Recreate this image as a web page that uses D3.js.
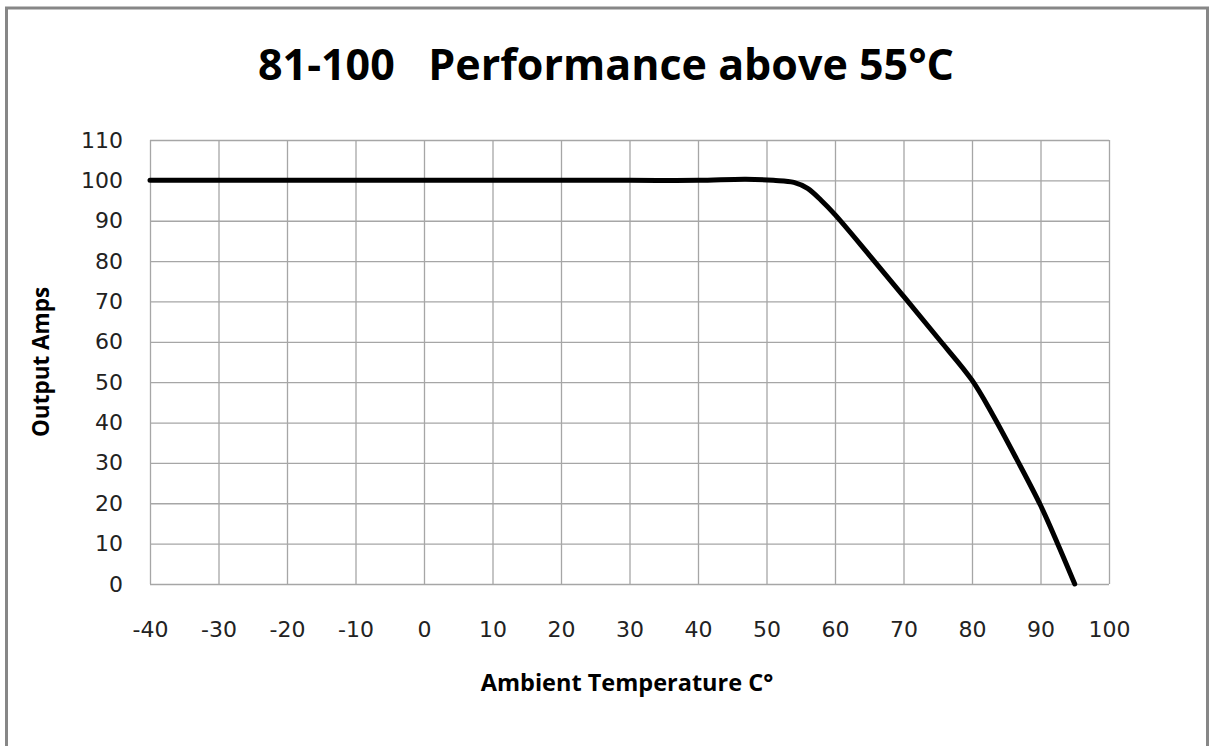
<!DOCTYPE html>
<html>
<head>
<meta charset="utf-8">
<script src="https://cdn.jsdelivr.net/npm/d3@7"></script>
<style>
  body { margin: 0; background: #fff; }
  svg { display: block; }
  .tick text { font-family: "DejaVu Sans", sans-serif; font-size: 22px; fill: #222; }
</style>
</head>
<body>
<svg id="chart" width="1209" height="746"></svg>
<script>
// curve: ambient temperature (°C) -> output amps
const temps = [-40, 0, 30, 40, 47, 51, 54, 56, 58, 60, 65, 70, 75, 80, 83, 86.5, 90, 92.5, 95];
const amps = [100, 100, 100, 100, 100.3, 100, 99.5, 98, 95, 91.5, 81.5, 71.3, 61, 50.5, 42, 31, 19.5, 10, 0];
const xTicks = [-40, -30, -20, -10, 0, 10, 20, 30, 40, 50, 60, 70, 80, 90, 100];
const yTicks = [0, 10, 20, 30, 40, 50, 60, 70, 80, 90, 100, 110];

const title = "81-100   Performance above 55°C";
const xTitle = "Ambient Temperature C°";
const yTitle = "Output Amps";

const svg = d3.select("#chart"),
  margin = { top: 140, right: 100, bottom: 162, left: 150 },
  width = +svg.attr("width") - margin.left - margin.right,
  height = +svg.attr("height") - margin.top - margin.bottom;

// outer chart frame
svg.append("rect")
  .attr("x", 6.5).attr("y", 8)
  .attr("width", 1201).attr("height", 780)
  .attr("fill", "none")
  .attr("stroke", "#878787")
  .attr("stroke-width", 3);

const g = svg.append("g")
  .attr("transform", "translate(" + margin.left + "," + margin.top + ")");

const x = d3.scaleLinear().domain([-40, 100]).range([0, width]);
const y = d3.scaleLinear().domain([0, 110]).range([height, 0]);

// plain hyphen for negatives, like the original
const fmt = (d) => String(d);

// grid + labels
const xAxis = g.append("g")
  .attr("class", "axis x")
  .attr("transform", "translate(0," + height + ")")
  .call(d3.axisBottom(x).tickValues(xTicks).tickSize(-height).tickPadding(37).tickFormat(fmt));

const yAxis = g.append("g")
  .attr("class", "axis y")
  .call(d3.axisLeft(y).tickValues(yTicks).tickSize(-width).tickPadding(27).tickFormat(fmt));

[xAxis, yAxis].forEach((a) => {
  a.select(".domain").remove();
  a.selectAll(".tick line").attr("stroke", "#a6a6a6").attr("stroke-width", 1.3);
});

// the derating curve
const line = d3.line()
  .x((d, i) => x(temps[i]))
  .y((d) => y(d))
  .curve(d3.curveCatmullRom.alpha(0.5));

g.append("path")
  .datum(amps)
  .attr("fill", "none")
  .attr("stroke", "#000")
  .attr("stroke-width", 5)
  .attr("stroke-linejoin", "round")
  .attr("stroke-linecap", "round")
  .attr("d", line);

// titles
svg.append("text")
  .attr("x", 606).attr("y", 80)
  .attr("text-anchor", "middle")
  .style("white-space", "pre")
  .style("font-family", "'Open Sans', sans-serif")
  .style("font-weight", "bold")
  .style("font-size", "43px")
  .text(title);

svg.append("text")
  .attr("x", 627).attr("y", 691)
  .attr("text-anchor", "middle")
  .style("font-family", "'Open Sans', sans-serif")
  .style("font-weight", "bold")
  .style("font-size", "23.5px")
  .text(xTitle);

svg.append("text")
  .attr("transform", "translate(49,362) rotate(-90)")
  .attr("text-anchor", "middle")
  .style("font-family", "'Open Sans', sans-serif")
  .style("font-weight", "bold")
  .style("font-size", "22.5px")
  .text(yTitle);
</script>
</body>
</html>
